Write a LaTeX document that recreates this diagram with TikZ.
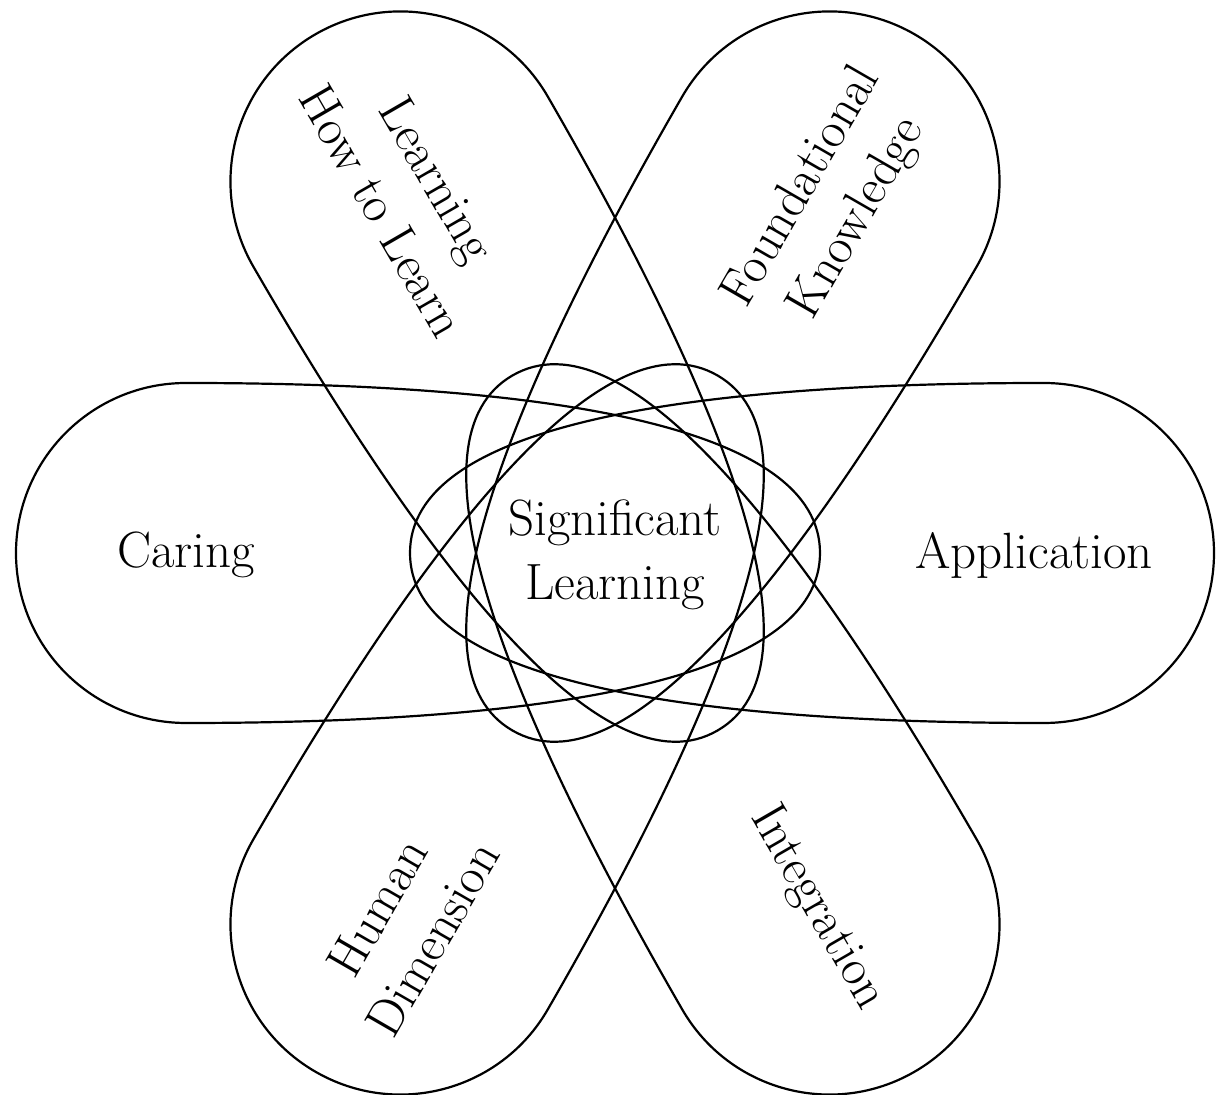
\documentclass[tikz,border=0pt]{standalone}
\usepackage{fontspec}
\begin{document}
\begin{tikzpicture}[x=0.5pt, y=0.5pt,
  lobe/.style={line width=1.1pt, line join=round},
  tag/.style={font=\fontsize{25.5}{32}\selectfont, align=center, inner sep=0pt}]
\useasboundingbox (-615,-542) rectangle (604,553);

\draw[lobe] (-429,170) .. controls (-57,170) and (205,125) .. (205,0) .. controls (205,-125) and (-57,-170) .. (-429,-170) arc[start angle=270, end angle=90, radius=170] -- cycle;
\draw[lobe, rotate=180] (-429,170) .. controls (-57,170) and (205,125) .. (205,0) .. controls (205,-125) and (-57,-170) .. (-429,-170) arc[start angle=270, end angle=90, radius=170] -- cycle;
\draw[lobe, rotate=-60] (-429,170) .. controls (-57,170) and (205,125) .. (205,0) .. controls (205,-125) and (-57,-170) .. (-429,-170) arc[start angle=270, end angle=90, radius=170] -- cycle;
\draw[lobe, rotate=-120] (-429,170) .. controls (-57,170) and (205,125) .. (205,0) .. controls (205,-125) and (-57,-170) .. (-429,-170) arc[start angle=270, end angle=90, radius=170] -- cycle;
\draw[lobe, rotate=60] (-429,170) .. controls (-57,170) and (205,125) .. (205,0) .. controls (205,-125) and (-57,-170) .. (-429,-170) arc[start angle=270, end angle=90, radius=170] -- cycle;
\draw[lobe, rotate=120] (-429,170) .. controls (-57,170) and (205,125) .. (205,0) .. controls (205,-125) and (-57,-170) .. (-429,-170) arc[start angle=270, end angle=90, radius=170] -- cycle;

\node[tag] (significant) at (0,-2) {Significant\\Learning};
\node[tag] (caring) at (-429,-2) {Caring};
\node[tag] (application) at (419,-2) {Application};
\node[tag, rotate=-60] (learnhow) at (-205,358) {Learning\\How to Learn};
\node[tag, rotate=60] (foundation) at (215,350) {Foundational\\Knowledge};
\node[tag, rotate=60] (human) at (-210,-370) {Human\\Dimension};
\node[tag, rotate=-60] (integration) at (202,-355) {Integration};

\end{tikzpicture}
\end{document}
